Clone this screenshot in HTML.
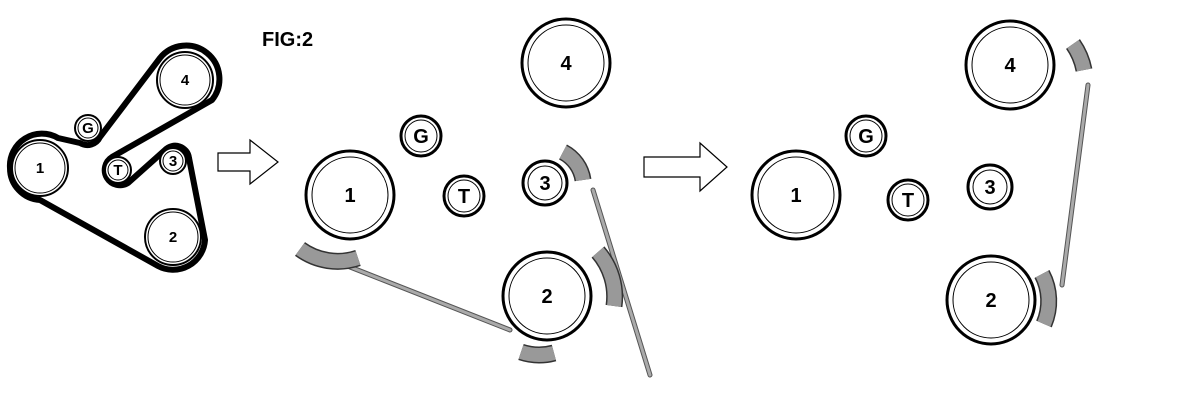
<!DOCTYPE html>
<html><head><style>body{margin:0;background:#fff}svg{display:block}</style></head>
<body>
<svg width="1200" height="412" viewBox="0 0 1200 412" xmlns="http://www.w3.org/2000/svg" font-family="Liberation Sans, sans-serif" font-weight="bold">
<!-- Left belt diagram -->
<g fill="none" stroke="#000" stroke-width="6" stroke-linejoin="round">
<path d="M10,168 A32,32 0 0 1 58,138 L80,143 A14,14 0 0 0 100,137 L160,58 A32,32 0 1 1 212,100 L112,157 A14,14 0 0 0 128,183 L165,150 A14,14 0 0 1 189,158 L205,240 A32,32 0 0 1 158,266 L40,200 A32,32 0 0 1 10,168 Z"/>
</g>
<g fill="#fff" stroke="#000">
<circle cx="40" cy="168" r="28" stroke-width="2"/><circle cx="40" cy="168" r="25" stroke-width="1"/>
<circle cx="185" cy="80" r="28" stroke-width="2"/><circle cx="185" cy="80" r="25" stroke-width="1"/>
<circle cx="173" cy="237" r="28" stroke-width="2"/><circle cx="173" cy="237" r="25" stroke-width="1"/>
<circle cx="88" cy="128" r="13" stroke-width="2"/><circle cx="88" cy="128" r="10" stroke-width="1"/>
<circle cx="118" cy="170" r="13" stroke-width="2"/><circle cx="118" cy="170" r="10" stroke-width="1"/>
<circle cx="173" cy="161" r="13" stroke-width="2"/><circle cx="173" cy="161" r="10" stroke-width="1"/>
</g>
<g font-size="15" text-anchor="middle">
<text x="40" y="173">1</text><text x="185" y="85">4</text><text x="173" y="242">2</text>
<text x="88" y="133">G</text><text x="118" y="175">T</text><text x="173" y="166">3</text>
</g>
<text x="262" y="46" font-size="20">FIG:2</text>
<!-- arrows -->
<path d="M218,153 L250,153 L250,140 L278,162 L250,184 L250,171 L218,171 Z" fill="#fff" stroke="#000" stroke-width="1.2"/>
<path d="M644,157 L700,157 L700,143 L727,167 L700,191 L700,177 L644,177 Z" fill="#fff" stroke="#000" stroke-width="1.2"/>
<!-- gray lines -->
<g stroke="#555" stroke-width="5" stroke-linecap="round"><line x1="345" y1="265" x2="510" y2="330"/><line x1="593" y1="190" x2="650" y2="375"/><line x1="1088" y1="85" x2="1062" y2="285"/></g>
<g stroke="#aaa" stroke-width="3" stroke-linecap="round"><line x1="345" y1="265" x2="510" y2="330"/><line x1="593" y1="190" x2="650" y2="375"/><line x1="1088" y1="85" x2="1062" y2="285"/></g>
<!-- gray arc bands -->
<g fill="none">
<g stroke="#333" stroke-width="17">
<path d="M300,249 A64,64 0 0 0 358,258"/>
<path d="M521,352 A57,57 0 0 0 554,353"/>
<path d="M563,152 A38,38 0 0 1 583,180"/>
<path d="M598,252 A68,68 0 0 1 614,306"/>
<path d="M1073,44 A68,68 0 0 1 1084,70"/>
<path d="M1042,274 A58,58 0 0 1 1044,324"/>
</g>
<g stroke="#999" stroke-width="14">
<path d="M300,249 A64,64 0 0 0 358,258"/>
<path d="M521,352 A57,57 0 0 0 554,353"/>
<path d="M563,152 A38,38 0 0 1 583,180"/>
<path d="M598,252 A68,68 0 0 1 614,306"/>
<path d="M1073,44 A68,68 0 0 1 1084,70"/>
<path d="M1042,274 A58,58 0 0 1 1044,324"/>
</g>
</g>
<!-- pulleys -->
<g fill="#fff" stroke="#000">
<circle cx="566" cy="63" r="44" stroke-width="3"/><circle cx="566" cy="63" r="38" stroke-width="1"/>
<circle cx="350" cy="195" r="44" stroke-width="3"/><circle cx="350" cy="195" r="38" stroke-width="1"/>
<circle cx="547" cy="296" r="44" stroke-width="3"/><circle cx="547" cy="296" r="38" stroke-width="1"/>
<circle cx="421" cy="136" r="20" stroke-width="3"/><circle cx="421" cy="136" r="16" stroke-width="1"/>
<circle cx="464" cy="196" r="20" stroke-width="3"/><circle cx="464" cy="196" r="16" stroke-width="1"/>
<circle cx="545" cy="183" r="22" stroke-width="3"/><circle cx="545" cy="183" r="17" stroke-width="1"/>
<circle cx="1010" cy="65" r="44" stroke-width="3"/><circle cx="1010" cy="65" r="38" stroke-width="1"/>
<circle cx="796" cy="195" r="44" stroke-width="3"/><circle cx="796" cy="195" r="38" stroke-width="1"/>
<circle cx="991" cy="300" r="44" stroke-width="3"/><circle cx="991" cy="300" r="38" stroke-width="1"/>
<circle cx="866" cy="136" r="20" stroke-width="3"/><circle cx="866" cy="136" r="16" stroke-width="1"/>
<circle cx="908" cy="200" r="20" stroke-width="3"/><circle cx="908" cy="200" r="16" stroke-width="1"/>
<circle cx="990" cy="187" r="22" stroke-width="3"/><circle cx="990" cy="187" r="17" stroke-width="1"/>
</g>
<g font-size="20" text-anchor="middle">
<text x="566" y="70">4</text><text x="350" y="202">1</text><text x="547" y="303">2</text>
<text x="421" y="143">G</text><text x="464" y="203">T</text><text x="545" y="190">3</text>
<text x="1010" y="72">4</text><text x="796" y="202">1</text><text x="991" y="307">2</text>
<text x="866" y="143">G</text><text x="908" y="207">T</text><text x="990" y="194">3</text>
</g>
</svg>
</body></html>
